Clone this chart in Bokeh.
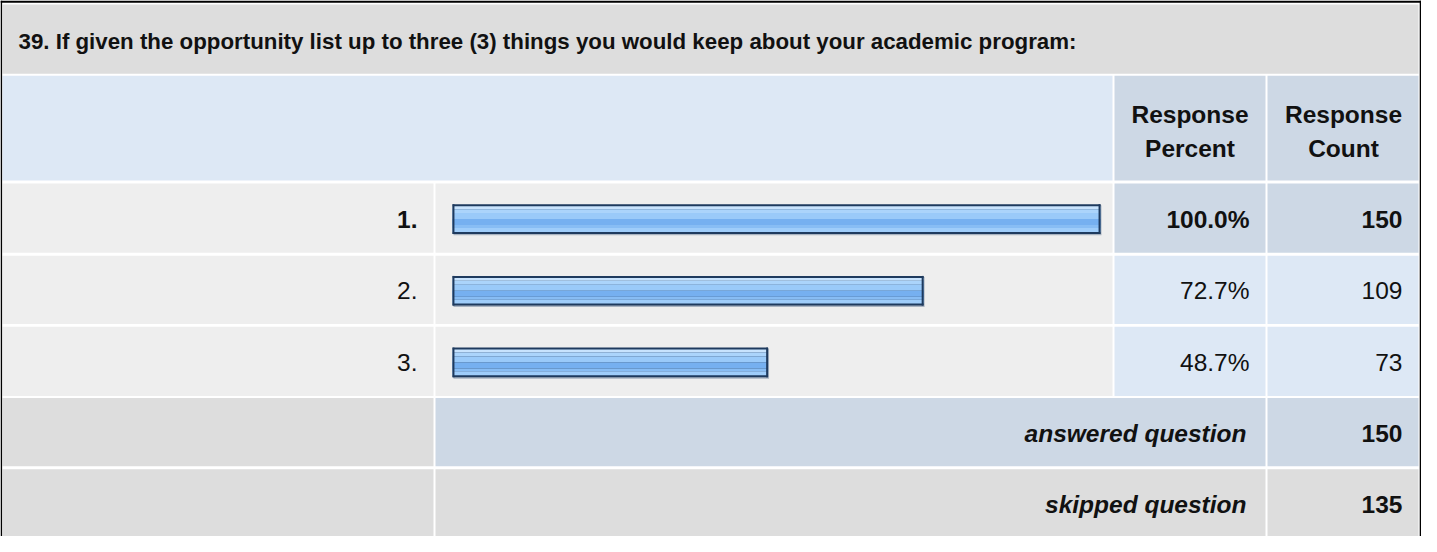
from bokeh.plotting import figure
from bokeh.models import Range1d, ColumnDataSource
from bokeh.core.properties import value
from bokeh.embed import file_html
from bokeh.resources import INLINE

# ---- data ----
title = "39. If given the opportunity list up to three (3) things you would keep about your academic program:"
categories = ["1.", "2.", "3."]
percents = [100.0, 72.7, 48.7]
counts = [150, 109, 73]
answered_count = 150
skipped_count = 135
header_percent = ["Response", "Percent"]
header_count = ["Response", "Count"]

# ---- layout (pixel-like data coordinates) ----
W, H = 1421, 536
p = figure(width=W, height=H, output_backend="svg", toolbar_location=None,
           x_range=Range1d(8, 1429), y_range=Range1d(548, 6),
           min_border=0, outline_line_color=None)
p.axis.visible = False
p.grid.visible = False
p.background_fill_color = "white"
p.border_fill_color = "white"

BAR_X0, BAR_SCALE = 460.0, 6.48
p.extra_x_ranges = {"pct": Range1d((8 - BAR_X0) / BAR_SCALE, (1429 - BAR_X0) / BAR_SCALE)}

C0 = (10, 441); C1 = (443, 1120); C2 = (1122, 1273); C3 = (1275, 1426)
TITLE_R = (10, 80); HEAD_R = (82, 188)
ROWS = [(191, 261), (264, 333), (336, 406)]
ANS_R = (408, 477); SKIP_R = (480, 550)

GRAY = "#dddddd"; LIGHT = "#eeeeee"; BLUE = "#dde8f5"; BLUE2 = "#cdd8e5"

cells = dict(left=[], right=[], top=[], bottom=[], color=[])
def cell(c, r, col):
    cells["left"].append(c[0]); cells["right"].append(c[1])
    cells["top"].append(r[0]); cells["bottom"].append(r[1]); cells["color"].append(col)

cell((C0[0], C3[1]), TITLE_R, GRAY)
cell((C0[0], C1[1]), HEAD_R, BLUE)
cell(C2, HEAD_R, BLUE2)
cell(C3, HEAD_R, BLUE2)
imax = percents.index(max(percents))
for i, r in enumerate(ROWS):
    cell(C0, r, LIGHT)
    cell(C1, r, LIGHT)
    hc = BLUE2 if i == imax else BLUE
    cell(C2, r, hc)
    cell(C3, r, hc)
cell(C0, ANS_R, GRAY)
cell((C1[0], C2[1]), ANS_R, BLUE2)
cell(C3, ANS_R, BLUE2)
cell(C0, SKIP_R, GRAY)
cell((C1[0], C2[1]), SKIP_R, GRAY)
cell(C3, SKIP_R, GRAY)
p.quad(source=ColumnDataSource(cells), left="left", right="right", top="top",
       bottom="bottom", fill_color="color", line_color=None)

# outer black frame
p.quad(left=[8], right=[9.6], top=[6], bottom=[560], fill_color="black", line_color=None)
p.quad(left=[8], right=[1429], top=[6], bottom=[8.2], fill_color="black", line_color=None)
p.quad(left=[1427.2], right=[1429], top=[6], bottom=[560], fill_color="black", line_color=None)

# ---- bars (through the "pct" range) ----
centers = [(a + b) / 2.0 for a, b in ROWS]
zeros = [0.0] * len(percents)
def band(t, b, col):
    p.quad(left=zeros, right=percents, top=[c + t for c in centers],
           bottom=[c + b for c in centers], fill_color=col, line_color=None,
           x_range_name="pct")
# subtle shadow
p.quad(left=[0.15] * 3, right=[v + 0.15 for v in percents], top=[c - 13 for c in centers],
       bottom=[c + 17.5 for c in centers], fill_color="#a9b3c0", line_color=None,
       x_range_name="pct")
band(-14, 16, "#1e3a5e")
band(-12, -9, "#c8e3fd")
band(-9, -5, "#abd4fb")
band(-5, 1, "#9acaf9")
band(1, 7, "#76b0f0")
band(7, 10, "#88bdf4")
band(10, 14, "#9fcdfa")
# left/right dark edges over the bands
p.quad(left=zeros, right=[0.3] * 3, top=[c - 14 for c in centers],
       bottom=[c + 16 for c in centers], fill_color="#1e3a5e", line_color=None, x_range_name="pct")
p.quad(left=[v - 0.3 for v in percents], right=percents, top=[c - 14 for c in centers],
       bottom=[c + 16 for c in centers], fill_color="#1e3a5e", line_color=None, x_range_name="pct")

# ---- texts ----
FONT = value("Liberation Sans")
TXT = "#111111"
FS = "24.5px"
p.text(x=[26], y=[47], text=[title], text_font=FONT, text_font_style="bold",
       text_font_size="22.3px", text_align="left", text_baseline="middle", text_color=TXT)

for x, lines in ((1197.5, header_percent), (1351, header_count)):
    p.text(x=[x, x], y=[121, 156], text=lines, text_font=FONT, text_font_style="bold",
           text_font_size=FS, text_align="center", text_baseline="middle", text_color=TXT)

for i, r in enumerate(ROWS):
    mid = (r[0] + r[1]) / 2.0 + 1
    style = "bold" if i == imax else "normal"
    p.text(x=[425], y=[mid], text=[categories[i]], text_font=FONT, text_font_style=style,
           text_font_size=FS, text_align="right", text_baseline="middle", text_color=TXT)
    p.text(x=[1257], y=[mid], text=[f"{percents[i]:.1f}%"], text_font=FONT, text_font_style=style,
           text_font_size=FS, text_align="right", text_baseline="middle", text_color=TXT)
    p.text(x=[1410], y=[mid], text=[str(counts[i])], text_font=FONT, text_font_style=style,
           text_font_size=FS, text_align="right", text_baseline="middle", text_color=TXT)

for r, lab, v in ((ANS_R, "answered question", answered_count), (SKIP_R, "skipped question", skipped_count)):
    mid = (r[0] + r[1]) / 2.0 + 1
    p.text(x=[1254], y=[mid], text=[lab], text_font=FONT, text_font_style="bold italic",
           text_font_size=FS, text_align="right", text_baseline="middle", text_color=TXT)
    p.text(x=[1410], y=[mid], text=[str(v)], text_font=FONT, text_font_style="bold",
           text_font_size=FS, text_align="right", text_baseline="middle", text_color=TXT)

open("out.html", "w").write(file_html(p, INLINE))
